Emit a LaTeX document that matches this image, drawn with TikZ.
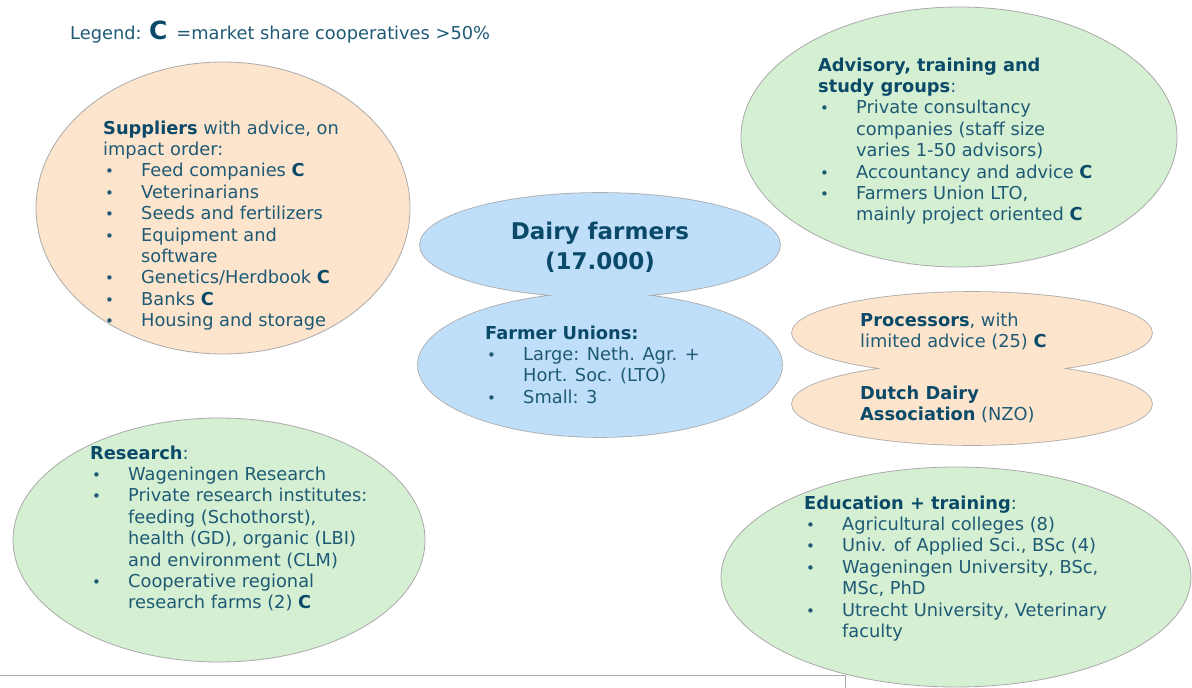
\documentclass[tikz,border=0pt]{standalone}
\usepackage{fontspec}
\setmainfont{DejaVu Sans}
\usepackage{xcolor}
\usepackage{tikz}
\usetikzlibrary{positioning}

\definecolor{txtc}{RGB}{31,90,117}
\definecolor{hdr}{RGB}{10,74,104}
\definecolor{peach}{RGB}{252,228,205}
\definecolor{leaf}{RGB}{213,239,211}
\definecolor{sky}{RGB}{190,222,249}
\definecolor{rim}{RGB}{170,170,170}

\newcommand\hd[1]{{\bfseries\color{hdr}#1}}
\newcommand\coop{\hd{C}}
\newcommand\itemdot{\makebox[38pt][l]{\hspace{2pt}{\fontsize{15}{15}\selectfont •}}}
\newcommand\contind{\hspace*{38pt}}

\begin{document}
\begin{tikzpicture}[x=1pt,y=-1pt,
  blob/.style = {draw=rim,line width=0.8pt},
  rimline/.style = {draw=rim,line width=1.6pt},
  txt/.style = {anchor=base west,inner sep=0pt,align=left,text=txtc,
  font=\fontsize{17.8}{21.4}\selectfont}]
 \useasboundingbox (0,0) rectangle (1192,688);
 \clip (0,0) rectangle (1192,688);
 % single ellipses
 \draw[blob,fill=peach] (223,208) ellipse [x radius=187,y radius=146];
 \draw[blob,fill=leaf] (959,137) ellipse [x radius=218,y radius=130];
 \draw[blob,fill=leaf] (219,540) ellipse [x radius=206,y radius=122];
 \draw[blob,fill=leaf] (956,577) ellipse [x radius=235,y radius=110];
 % double ellipses: rim first, fill over it
 \draw[rimline] (600,245) ellipse [x radius=180,y radius=52]
  (600,365) ellipse [x radius=182,y radius=72];
 \fill[sky] (600,245) ellipse [x radius=180,y radius=52]
  (600,365) ellipse [x radius=182,y radius=72];
 \draw[rimline] (972,333) ellipse [x radius=180,y radius=41]
  (972,404) ellipse [x radius=180,y radius=41];
 \fill[peach] (972,333) ellipse [x radius=180,y radius=41]
  (972,404) ellipse [x radius=180,y radius=41];
 % frame at the bottom
 \draw[rim,line width=0.8pt] (0,675) -- (845,675) -- (845,692);

 % text nodes sit on the baseline of their last line
 \node[txt] (legend) at (70,39)
  {Legend: {\fontsize{25}{25}\selectfont\hd{C}}\hspace{9pt}=market share cooperatives >50\%};
 \node[txt] (sup) at (103,326.6)
  {\hd{Suppliers} with advice, on\\
   impact order:\\
   \itemdot Feed companies \coop\\
   \itemdot Veterinarians\\
   \itemdot Seeds and fertilizers\\
   \itemdot Equipment and\\
   \contind software\\
   \itemdot Genetics/Herdbook \coop\\
   \itemdot Banks \coop\\
   \itemdot Housing and storage};
 \node[txt] (adv) at (818,220.8)
  {\hd{Advisory, training and}\\
   \hd{study groups}:\\
   \itemdot Private consultancy\\
   \contind companies (staff size\\
   \contind varies 1-50 advisors)\\
   \itemdot Accountancy and advice \coop\\
   \itemdot Farmers Union LTO,\\
   \contind mainly project oriented \coop};
 \node[anchor=base,inner sep=0pt,align=center,text=hdr,
  font=\fontsize{23}{30}\selectfont\bfseries] (dairy) at (600,269)
  {Dairy farmers\\(17.000)};
 \node[txt] (unions) at (485,403.2)
  {\hd{Farmer Unions:}\\
   \itemdot Large: Neth. Agr. +\\
   \contind Hort. Soc. (LTO)\\
   \itemdot Small: 3};
 \node[txt] (proc) at (860,347.4)
  {\hd{Processors}, with\\
   limited advice (25) \coop};
 \node[txt] (nzo) at (860,420.4)
  {\hd{Dutch Dairy}\\
   \hd{Association} (NZO)};
 \node[txt] (res) at (90,608.8)
  {\hd{Research}:\\
   \itemdot Wageningen Research\\
   \itemdot Private research institutes:\\
   \contind feeding (Schothorst),\\
   \contind health (GD), organic (LBI)\\
   \contind and environment (CLM)\\
   \itemdot Cooperative regional\\
   \contind research farms (2) \coop};
 \node[txt] (edu) at (804,637.4)
  {\hd{Education + training}:\\
   \itemdot Agricultural colleges (8)\\
   \itemdot Univ. of Applied Sci., BSc (4)\\
   \itemdot Wageningen University, BSc,\\
   \contind MSc, PhD\\
   \itemdot Utrecht University, Veterinary\\
   \contind faculty};
\end{tikzpicture}
\end{document}
